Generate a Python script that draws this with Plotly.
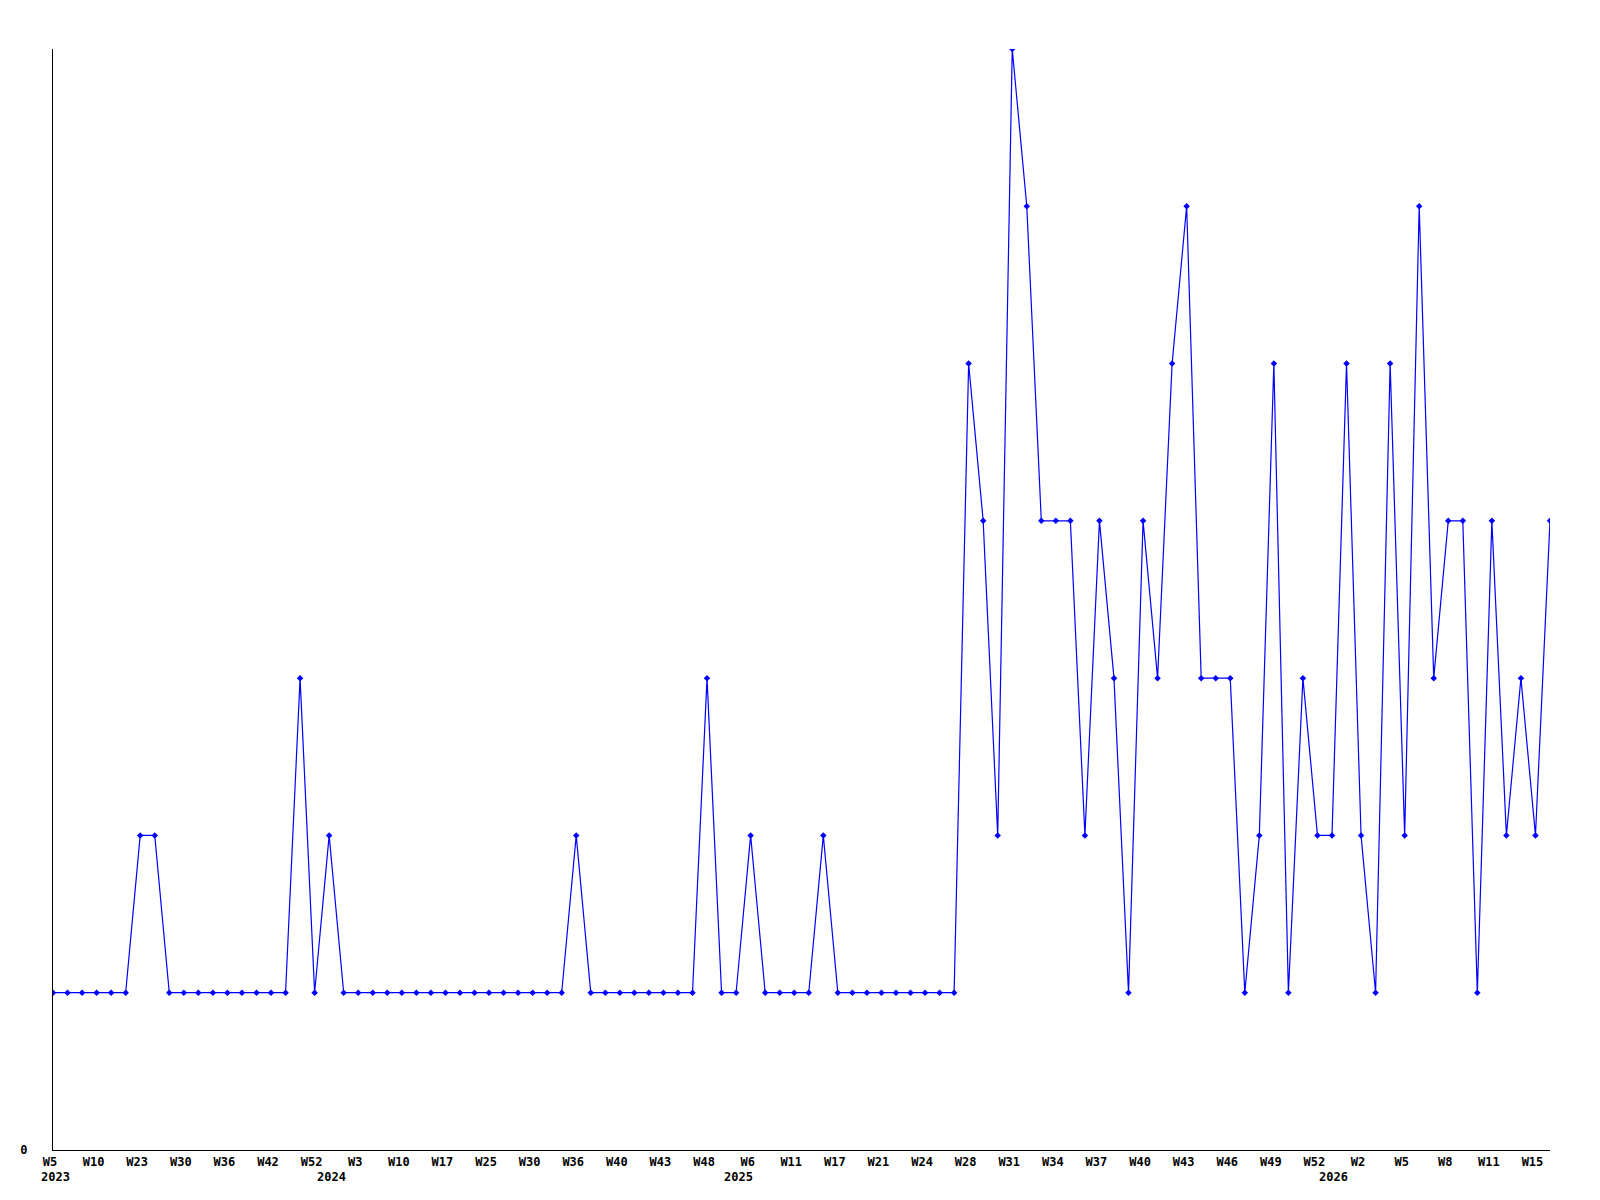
import plotly.graph_objects as go

# Weekly values (one per data row, categorical order)
values = [
    1, 1, 1, 1, 1, 1, 2, 2, 1, 1,
    1, 1, 1, 1, 1, 1, 1, 3, 1, 2,
    1, 1, 1, 1, 1, 1, 1, 1, 1, 1,
    1, 1, 1, 1, 1, 1, 2, 1, 1, 1,
    1, 1, 1, 1, 1, 3, 1, 1, 2, 1,
    1, 1, 1, 2, 1, 1, 1, 1, 1, 1,
    1, 1, 1, 5, 4, 2, 7, 6, 4, 4,
    4, 2, 4, 3, 1, 4, 3, 5, 6, 3,
    3, 3, 1, 2, 5, 1, 3, 2, 2, 5,
    2, 1, 5, 2, 6, 3, 4, 4, 1, 4,
    2, 3, 2, 4,
]

# Week tick labels (shown on every 3rd row)
week_labels = [
    "W5", "W10", "W23", "W30", "W36", "W42", "W52", "W3", "W10", "W17",
    "W25", "W30", "W36", "W40", "W43", "W48", "W6", "W11", "W17", "W21",
    "W24", "W28", "W31", "W34", "W37", "W40", "W43", "W46", "W49", "W52",
    "W2", "W5", "W8", "W11", "W15",
]
label_step = 3

# Year labels and the row where each year starts
year_labels = ["2023", "2024", "2025", "2026"]
year_rows = [0, 19, 47, 88]

x = list(range(len(values)))
tickvals = [i * label_step for i in range(len(week_labels))]

FONT = dict(family="DejaVu Sans Mono", size=12, color="black", weight="bold")

fig = go.Figure()
fig.add_trace(go.Scatter(
    x=x, y=values, mode="lines+markers",
    line=dict(color="#0000FF", width=1.2),
    marker=dict(symbol="diamond", size=5, color="#0000FF"),
    hoverinfo="skip", showlegend=False,
))

for lab, row in zip(year_labels, year_rows):
    fig.add_annotation(
        x=row, y=0, xref="x", yref="paper", text=lab, showarrow=False,
        xanchor="center", yanchor="top", yshift=-18, xshift=2, font=FONT,
    )

fig.update_layout(
    width=1600, height=1200,
    margin=dict(l=42, r=58, t=41, b=58),
    paper_bgcolor="white", plot_bgcolor="white",
    xaxis=dict(
        range=[0, len(values) - 1], tickvals=tickvals, ticktext=week_labels,
        showgrid=False, zeroline=False, showline=True, linecolor="black",
        linewidth=1, ticks="", tickfont=FONT, ticklabelstandoff=1,
        ticklabelshift=-3, fixedrange=True,
    ),
    yaxis=dict(
        range=[0, 7], tickvals=[0], ticktext=["0"],
        showgrid=False, zeroline=False, showline=True, linecolor="black",
        linewidth=1, ticks="", tickfont=FONT, ticklabelstandoff=22,
        fixedrange=True,
    ),
)

fig.write_html("out.html")
